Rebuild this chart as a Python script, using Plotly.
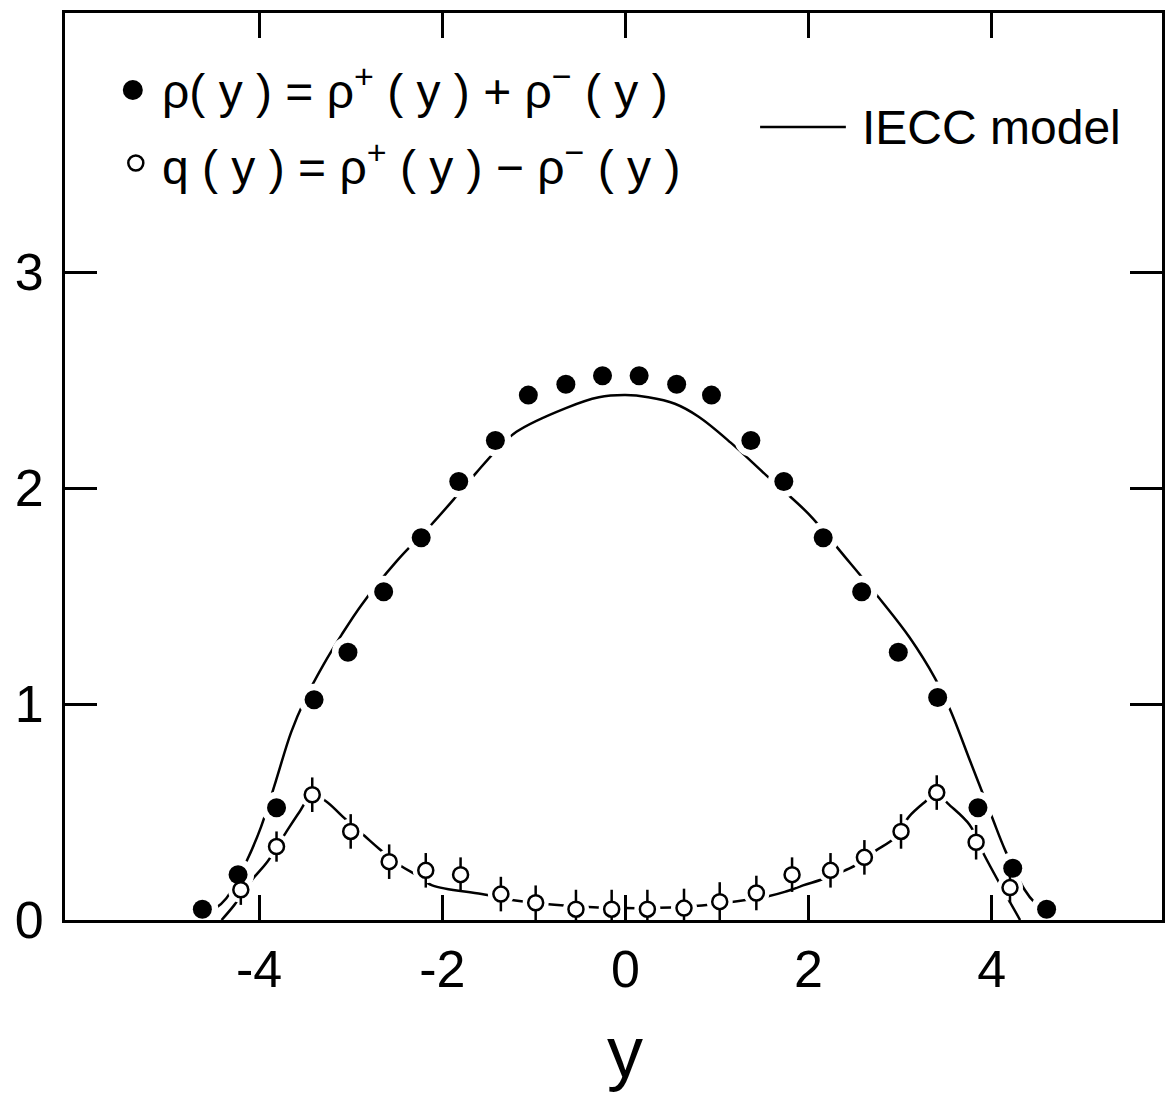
import plotly.graph_objects as go

# ---------------- data ----------------
rho_x = [-4.62, -4.23, -3.81, -3.40, -3.03, -2.64, -2.23, -1.82, -1.42, -1.06, -0.65, -0.25,
         0.15, 0.56, 0.94, 1.37, 1.73, 2.16, 2.58, 2.98, 3.41, 3.85, 4.23, 4.60]
rho_y = [0.05, 0.21, 0.52, 1.02, 1.24, 1.52, 1.77, 2.03, 2.22, 2.43, 2.48, 2.52,
         2.52, 2.48, 2.43, 2.22, 2.03, 1.77, 1.52, 1.24, 1.03, 0.52, 0.24, 0.05]

q_x = [-4.20, -3.81, -3.42, -3.00, -2.58, -2.18, -1.80, -1.36, -0.98, -0.54, -0.15,
       0.24, 0.64, 1.03, 1.43, 1.82, 2.24, 2.61, 3.01, 3.40, 3.83, 4.20]
q_y = [0.14, 0.34, 0.58, 0.41, 0.27, 0.23, 0.21, 0.12, 0.08, 0.05, 0.05,
       0.05, 0.055, 0.085, 0.125, 0.21, 0.23, 0.29, 0.41, 0.59, 0.36, 0.15]
q_err = [0.07, 0.07, 0.08, 0.08, 0.08, 0.08, 0.08, 0.08, 0.08, 0.09, 0.09,
         0.09, 0.09, 0.09, 0.08, 0.08, 0.08, 0.08, 0.08, 0.08, 0.08, 0.07]

model_rho_x = [-4.70, -4.49, -4.36, -4.14, -3.98, -3.82, -3.65, -3.50, -3.30, -3.10, -2.88,
               -2.50, -2.12, -1.87, -1.63, -1.42, -1.19, -0.65, -0.29, 0.00, 0.25, 0.54,
               0.80, 1.15, 1.56, 2.00, 2.40, 2.81, 3.10, 3.38, 3.55, 3.77, 4.00, 4.15,
               4.36, 4.47, 4.66]
model_rho_y = [0.01, 0.05, 0.10, 0.27, 0.43, 0.64, 0.87, 1.02, 1.18, 1.32, 1.46,
               1.66, 1.83, 1.95, 2.07, 2.17, 2.26, 2.37, 2.42, 2.43, 2.42, 2.39,
               2.33, 2.21, 2.05, 1.88, 1.68, 1.47, 1.31, 1.12, 0.97, 0.73, 0.48, 0.32,
               0.14, 0.08, 0.02]

model_q_x = [-4.41, -4.27, -4.07, -3.91, -3.70, -3.56, -3.42, -3.27, -3.09, -2.85, -2.69,
             -2.45, -2.29, -2.11, -1.57, -1.20, -0.60, 0.00, 0.60, 1.10, 1.56, 1.74,
             1.94, 2.16, 2.40, 2.54, 2.73, 2.94, 3.10, 3.28, 3.40, 3.52, 3.76, 3.92, 4.31]
model_q_y = [0.00, 0.07, 0.19, 0.27, 0.41, 0.50, 0.58, 0.55, 0.48, 0.39, 0.33,
             0.25, 0.21, 0.16, 0.12, 0.09, 0.065, 0.055, 0.06, 0.08, 0.11, 0.13,
             0.16, 0.19, 0.23, 0.26, 0.32, 0.38, 0.48, 0.55, 0.59, 0.54, 0.44, 0.30, 0.00]

x_tick_vals = [-4, -2, 0, 2, 4]
x_tick_text = ["-4", "-2", "0", "2", "4"]
y_tick_vals = [0, 1, 2, 3]
y_tick_text = ["0", "1", "2", "3"]

FONT = "Liberation Sans"
W, H = 1168, 1096
ML, MR, MT, MB = 65, 3, 13, 176
PW, PH = W - ML - MR, H - MT - MB


def px(xp):
    return (xp - ML) / PW


def py(yp):
    return (H - MB - yp) / PH


fig = go.Figure()

line_style = dict(color="black", width=2.5, shape="spline", smoothing=1.0)
# model curves
fig.add_trace(go.Scatter(x=model_rho_x, y=model_rho_y, mode="lines", line=line_style,
                         hoverinfo="skip"))
fig.add_trace(go.Scatter(x=model_q_x, y=model_q_y, mode="lines", line=line_style,
                         hoverinfo="skip"))
# white halos that break the lines around the markers
fig.add_trace(go.Scatter(x=rho_x, y=rho_y, mode="markers",
                         marker=dict(color="white", size=32, line=dict(width=0)),
                         hoverinfo="skip", cliponaxis=False))
fig.add_trace(go.Scatter(x=q_x, y=q_y, mode="markers",
                         marker=dict(color="white", size=26, line=dict(width=0)),
                         hoverinfo="skip", cliponaxis=False))
# data
fig.add_trace(go.Scatter(x=rho_x, y=rho_y, mode="markers",
                         marker=dict(color="black", size=19, line=dict(width=0)),
                         cliponaxis=False))
fig.add_trace(go.Scatter(x=q_x, y=q_y, mode="markers",
                         marker=dict(color="white", size=15, line=dict(color="black", width=2.5)),
                         error_y=dict(type="data", array=q_err, color="black", thickness=2.5, width=0),
                         cliponaxis=False))

fig.update_layout(
    width=W, height=H,
    margin=dict(l=ML, r=MR, t=MT, b=MB),
    plot_bgcolor="white", paper_bgcolor="white",
    showlegend=False, hovermode=False,
    font=dict(family=FONT, color="black"),
)
fig.update_xaxes(range=[-6.12, 5.86], showgrid=False, zeroline=False,
                 showline=True, linecolor="black", linewidth=3, mirror="ticks",
                 ticks="inside", ticklen=25, tickwidth=2.5, tickcolor="black",
                 tickvals=x_tick_vals, ticktext=x_tick_text,
                 tickfont=dict(size=52, family=FONT), ticklabelstandoff=2)
fig.update_yaxes(range=[0, PH / 216.0], showgrid=False, zeroline=False,
                 showline=True, linecolor="black", linewidth=3, mirror="ticks",
                 ticks="inside", ticklen=32, tickwidth=2.5, tickcolor="black",
                 tickvals=y_tick_vals, ticktext=y_tick_text,
                 tickfont=dict(size=52, family=FONT), ticklabelstandoff=8)

# axis title
fig.add_annotation(x=0, xref="x", y=py(1094), yref="paper", text="y", showarrow=False,
                   font=dict(size=72, family=FONT), xanchor="center", yanchor="bottom")

# legend (drawn manually)
SUP = "<sup><span style='font-size:34px'>{}</span></sup>"
fig.add_shape(type="circle", xref="paper", yref="paper", xsizemode="pixel", ysizemode="pixel",
              xanchor=px(133), yanchor=py(90), x0=-10, x1=10, y0=-10, y1=10,
              fillcolor="black", line=dict(width=0))
fig.add_shape(type="circle", xref="paper", yref="paper", xsizemode="pixel", ysizemode="pixel",
              xanchor=px(136), yanchor=py(163), x0=-7.5, x1=7.5, y0=-7.5, y1=7.5,
              fillcolor="white", line=dict(color="black", width=2.5))
fig.add_annotation(x=px(160), y=py(88), xref="paper", yref="paper", showarrow=False,
                   xanchor="left", yanchor="middle",
                   text="ρ( y ) = ρ" + SUP.format("+") + " ( y ) + ρ" + SUP.format("−") + " ( y )",
                   font=dict(size=48, family=FONT))
fig.add_annotation(x=px(160), y=py(163), xref="paper", yref="paper", showarrow=False,
                   xanchor="left", yanchor="middle",
                   text="q ( y ) = ρ" + SUP.format("+") + " ( y ) − ρ" + SUP.format("−") + " ( y )",
                   font=dict(size=48, family=FONT))
fig.add_shape(type="line", xref="paper", yref="paper", x0=px(762), x1=px(848),
              y0=py(127), y1=py(127), line=dict(color="black", width=2.5))
fig.add_annotation(x=px(862), y=py(127), xref="paper", yref="paper", showarrow=False,
                   xanchor="left", yanchor="middle", text="IECC model",
                   font=dict(size=48, family=FONT))

fig.write_html("out.html")
